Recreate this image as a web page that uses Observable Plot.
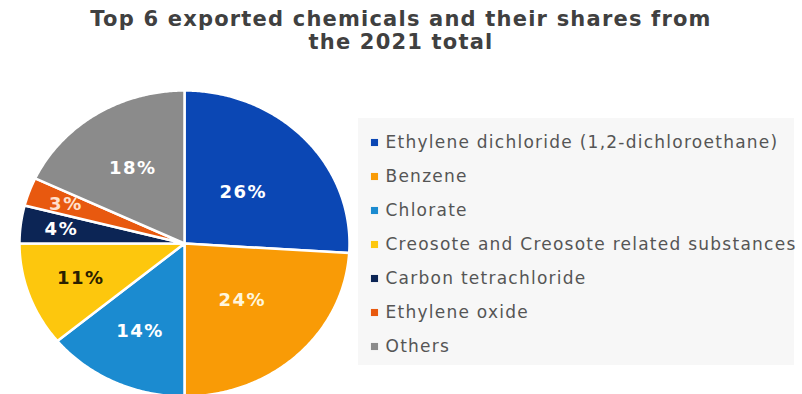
<!DOCTYPE html>
<html>
<head>
<meta charset="utf-8">
<script src="https://cdn.jsdelivr.net/npm/d3@7"></script>
<script src="https://cdn.jsdelivr.net/npm/@observablehq/plot@0.6"></script>
<style>
  html, body { margin: 0; padding: 0; background: #fff; }
  #wrap { position: relative; width: 802px; height: 394px; overflow: hidden; font-family: "DejaVu Sans", Verdana, sans-serif; }
  #title { position: absolute; left: 0; top: 8px; width: 802px; text-align: center; font-weight: bold; font-size: 21px; letter-spacing: 1.2px; line-height: 23px; color: #404040; z-index: 2; }
  #pie { position: absolute; left: 0; top: 0; }
  #pie text { letter-spacing: 1.5px; }
  #legend { position: absolute; left: 358px; top: 118px; width: 436px; height: 247px; background: #f7f7f7; }
  #legend svg { overflow: visible; }
  #legend text { letter-spacing: 1.25px; }
</style>
</head>
<body>
<div id="wrap">
  <div id="title">Top 6 exported chemicals and their shares from<br>the 2021 total</div>
  <div id="pie"></div>
  <div id="legend"></div>
</div>
<script>
const categories = [
  "Ethylene dichloride (1,2-dichloroethane)",
  "Benzene",
  "Chlorate",
  "Creosote and Creosote related substances",
  "Carbon tetrachloride",
  "Ethylene oxide",
  "Others"
];
const shares = [26, 24, 14, 11, 4, 3, 18];
const colors = ["#0b47b4", "#f99b06", "#1b8bd0", "#fdc70d", "#0c2555", "#e8590f", "#8b8b8b"];
const labelColors = ["#ffffff", "#fff6dc", "#ffffff", "#2a2000", "#ffffff", "#ffe0cc", "#ffffff"];

const rows = categories.map((name, i) => ({name, value: shares[i], labelColor: labelColors[i]}));
const arcs = d3.pie().sort(null).value(d => d.value)(rows);

// polygon points for each slice (center -> arc -> center), unit circle in data space
const pts = [];
for (const a of arcs) {
  const n = Math.max(4, Math.ceil((a.endAngle - a.startAngle) / 0.01));
  pts.push({name: a.data.name, x: 0, y: 0});
  for (let k = 0; k <= n; k++) {
    const t = a.startAngle + (a.endAngle - a.startAngle) * k / n;
    pts.push({name: a.data.name, x: Math.sin(t), y: Math.cos(t)});
  }
  pts.push({name: a.data.name, x: 0, y: 0});
}
const labels = arcs.map(a => {
  const m = (a.startAngle + a.endAngle) / 2;
  const r = 0.8 - 0.012 * a.data.value;
  return {text: a.data.value + "%", x: r * Math.sin(m), y: r * Math.cos(m), color: a.data.labelColor};
});

const color = {domain: categories, range: colors};

const pie = Plot.plot({
  width: 802, height: 394, margin: 0,
  x: {domain: [-1, 1], range: [19, 349], axis: null},
  y: {domain: [-1, 1], range: [396, 90], axis: null},
  color,
  style: {fontFamily: "'DejaVu Sans', Verdana, sans-serif", background: "transparent"},
  marks: [
    Plot.line(pts, {x: "x", y: "y", z: "name", fill: "name", stroke: "#ffffff", strokeWidth: 2.5, strokeLinejoin: "round"}),
    Plot.text(labels, {x: "x", y: "y", text: "text", fill: "color", fontSize: 18, fontWeight: "bold"})
  ]
});
document.getElementById("pie").appendChild(pie);

const legend = Plot.plot({
  width: 436, height: 247, margin: 0,
  y: {domain: categories, type: "point", range: [22, 229], padding: 0, axis: null},
  color,
  style: {fontFamily: "'DejaVu Sans', Verdana, sans-serif", background: "transparent", overflow: "visible"},
  marks: [
    Plot.dot(categories, {y: d => d, frameAnchor: "left", dx: 16, symbol: "square", r: 4, fill: d => d, stroke: null}),
    Plot.text(categories, {y: d => d, text: d => d, frameAnchor: "left", dx: 27, textAnchor: "start", fontSize: 17, fill: "#555555"})
  ]
});
document.getElementById("legend").appendChild(legend);
</script>
</body>
</html>
